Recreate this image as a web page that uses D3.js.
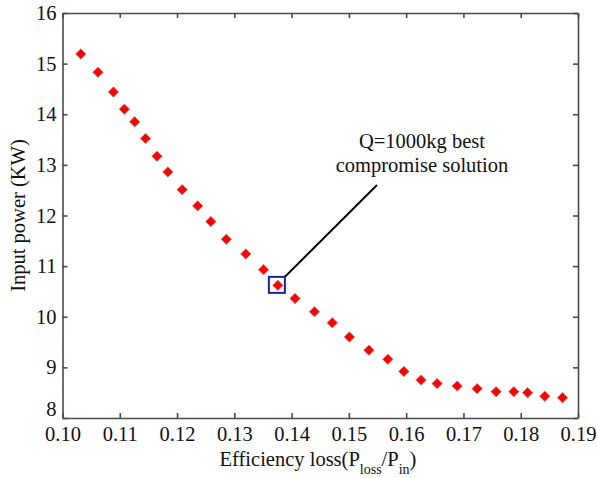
<!DOCTYPE html>
<html>
<head>
<meta charset="utf-8">
<script src="https://cdn.jsdelivr.net/npm/d3@7"></script>
<style>
  body { margin: 0; background: #fff; }
  svg text { font-family: "Liberation Serif", "Times New Roman", Times, serif !important; }
</style>
</head>
<body>
<div id="chart"></div>
<script>
// efficiency loss (Ploss/Pin) and input power (KW)
const efficiencyLoss = [
    0.1032, 0.1062, 0.1089, 0.1108, 0.1126, 0.1145, 0.1165, 0.1184,
    0.1209, 0.1236, 0.1259, 0.1286, 0.1320, 0.1351, 0.1376, 0.1406,
    0.1440, 0.1471, 0.1501, 0.1535, 0.1568, 0.1596, 0.1626, 0.1654,
    0.1689, 0.1724, 0.1757, 0.1788, 0.1812, 0.1842, 0.1873
];
const inputPower = [
    15.19, 14.83, 14.44, 14.10, 13.85, 13.52, 13.17, 12.86,
    12.51, 12.19, 11.88, 11.53, 11.24, 10.93, 10.62, 10.36,
    10.10, 9.88, 9.60, 9.34, 9.16, 8.92, 8.75, 8.68,
    8.63, 8.58, 8.52, 8.52, 8.50, 8.43, 8.40
];
const xTicks = [0.10, 0.11, 0.12, 0.13, 0.14, 0.15, 0.16, 0.17, 0.18, 0.19];
const yTicks = [8, 9, 10, 11, 12, 13, 14, 15, 16];
const bestIndex = 14;
const annotationLines = ["Q=1000kg best", "compromise solution"];

const width = 597;
const height = 478;
const serif = '"Liberation Serif", "Times New Roman", Times, serif';

const svg =
    d3.select("#chart")
      .append("svg")
      .attr("width", width)
      .attr("height", height)
      .attr("font-family", serif);

const x =
    d3.scaleLinear()
      .domain([0.10, 0.19])
      .range([62.5, 578]);

const y =
    d3.scaleLinear()
      .domain([8, 16])
      .range([418, 13]);

// ticks on all four sides, pointing inward
svg.append("g")
   .attr("transform", `translate(0,${y(8)})`)
   .call(
       d3.axisBottom(x)
         .tickValues(xTicks)
         .tickFormat(d3.format(".2f"))
         .tickSizeInner(-5)
         .tickSizeOuter(0)
         .tickPadding(8)
   );

svg.append("g")
   .attr("transform", `translate(0,${y(16)})`)
   .call(
       d3.axisTop(x)
         .tickValues(xTicks)
         .tickFormat("")
         .tickSizeInner(-5)
         .tickSizeOuter(0)
   );

svg.append("g")
   .attr("transform", `translate(${x(0.10)},0)`)
   .call(
       d3.axisLeft(y)
         .tickValues(yTicks)
         .tickSizeInner(-5)
         .tickSizeOuter(0)
         .tickPadding(6)
   );

svg.append("g")
   .attr("transform", `translate(${x(0.19)},0)`)
   .call(
       d3.axisRight(y)
         .tickValues(yTicks)
         .tickFormat("")
         .tickSizeInner(-5)
         .tickSizeOuter(0)
   );

svg.selectAll("g")
   .attr("font-family", serif);

svg.selectAll(".domain, .tick line")
   .attr("stroke", "#4a4a4a")
   .attr("stroke-width", 1.6);

svg.selectAll(".tick text")
   .attr("font-size", 20.5)
   .attr("fill", "#111");

// lift the bottom y label so it clears the 0.10 label
svg.selectAll(".tick text")
   .filter(d => d === 8)
   .attr("dy", "-0.1em");

// axis titles
svg.append("text")
   .attr("x", 318)
   .attr("y", 466)
   .attr("text-anchor", "middle")
   .attr("font-size", 20.5)
   .attr("fill", "#111")
   .html('Efficiency loss(P<tspan baseline-shift="sub" font-size="14">loss</tspan><tspan>/P</tspan><tspan baseline-shift="sub" font-size="14">in</tspan><tspan>)</tspan>');

svg.append("text")
   .attr("transform", `translate(25,${(y(8) + y(16)) / 2}) rotate(-90)`)
   .attr("text-anchor", "middle")
   .attr("font-size", 20.5)
   .attr("fill", "#111")
   .text("Input power (KW)");

const points = efficiencyLoss.map((v, i) => ({ loss: v, power: inputPower[i] }));

svg.selectAll("path.pt")
   .data(points)
   .enter()
   .append("path")
   .attr("class", "pt")
   .attr("d", d3.symbol().type(d3.symbolDiamond2).size(70))
   .attr("transform", d => `translate(${x(d.loss)},${y(d.power)})`)
   .attr("fill", "#f00")
   .attr("stroke", "#b08a80")
   .attr("stroke-width", 0.8);

// best compromise marker + annotation
const best = points[bestIndex];
const bx = x(best.loss);
const by = y(best.power);

svg.append("rect")
   .attr("x", bx - 9)
   .attr("y", by - 8.5)
   .attr("width", 16)
   .attr("height", 16)
   .attr("fill", "none")
   .attr("stroke", "#1c22a8")
   .attr("stroke-width", 2);

svg.append("line")
   .attr("x1", bx + 7)
   .attr("y1", by - 8.5)
   .attr("x2", 377)
   .attr("y2", 185)
   .attr("stroke", "#000")
   .attr("stroke-width", 2);

svg.append("text")
   .attr("x", 422)
   .attr("y", 148)
   .attr("text-anchor", "middle")
   .attr("font-size", 20.5)
   .attr("fill", "#111")
   .selectAll("tspan")
   .data(annotationLines)
   .enter()
   .append("tspan")
   .attr("x", 422)
   .attr("dy", (d, i) => i === 0 ? 0 : 24)
   .text(d => d);
</script>
</body>
</html>
